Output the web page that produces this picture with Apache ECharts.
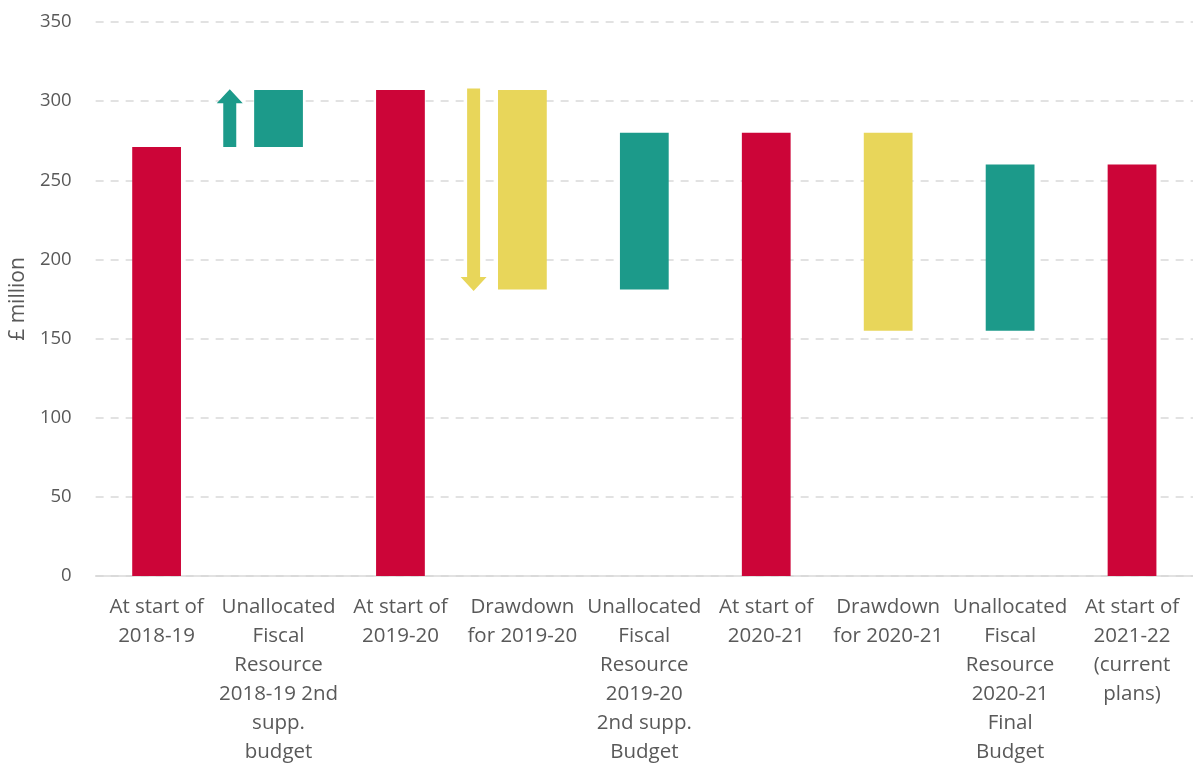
<!DOCTYPE html>
<html>
<head>
<meta charset="utf-8">
<script src="https://cdn.jsdelivr.net/npm/echarts@6/dist/echarts.min.js"></script>
<style>
  html, body { margin: 0; padding: 0; background: #fff; }
  #chart { width: 1193px; height: 767px; }
</style>
</head>
<body>
<div id="chart"></div>
<script>
// categories along the bottom
var categories = [
  "At start of\n2018-19",
  "Unallocated\nFiscal\nResource\n2018-19 2nd\nsupp.\nbudget",
  "At start of\n2019-20",
  "Drawdown\nfor 2019-20",
  "Unallocated\nFiscal\nResource\n2019-20\n2nd supp.\nBudget",
  "At start of\n2020-21",
  "Drawdown\nfor 2020-21",
  "Unallocated\nFiscal\nResource\n2020-21\nFinal\nBudget",
  "At start of\n2021-22\n(current\nplans)"
];
// bottom and top of each floating bar (£ million)
var barLow  = [0, 271, 0, 181, 181, 0, 155, 155, 0];
var barHigh = [271, 307, 307, 307, 280, 280, 280, 260, 260];
// kind of bar: 0 = total, 1 = unallocated, 2 = drawdown
var barKind = [0, 1, 0, 2, 1, 0, 2, 1, 0];
// arrows: [category, from, to]
var arrows = [
  [1, 271, 307.5],
  [3, 308, 180]
];
var arrowKind = [1, 2];

var colors = ["#CC0538", "#1C9A8A", "#E8D65A"];
var textColor = "#595959";

var chart = echarts.init(document.getElementById("chart"), null, { renderer: "canvas" });

var baseData = barLow.map(function (v) { return v; });
var barData = barHigh.map(function (h, i) {
  return {
    value: h - barLow[i],
    itemStyle: { color: colors[barKind[i]] }
  };
});

var option = {
  animation: false,
  textStyle: { fontFamily: "Open Sans" },
  grid: { left: 95, right: 0, top: 22, bottom: 190 },
  xAxis: {
    type: "category",
    data: categories,
    axisTick: { show: false },
    axisLine: { lineStyle: { color: "#d9d9d9", width: 1.5 } },
    axisLabel: {
      interval: 0,
      color: textColor,
      fontSize: 20.5,
      lineHeight: 29,
      margin: 17,
      align: "center"
    }
  },
  yAxis: {
    type: "value",
    min: 0,
    max: 350,
    interval: 50,
    name: "£ million",
    nameLocation: "middle",
    nameGap: 64,
    nameTextStyle: { color: textColor, fontSize: 21 },
    axisLine: { show: false },
    axisTick: { show: false },
    axisLabel: { color: textColor, fontSize: 18.5, margin: 24 },
    splitLine: { lineStyle: { color: "#d9d9d9", width: 1.5, type: [8, 7] } }
  },
  series: [
    {
      name: "base",
      type: "bar",
      stack: "w",
      barWidth: "40%",
      itemStyle: { color: "transparent" },
      silent: true,
      data: baseData
    },
    {
      name: "change",
      type: "bar",
      stack: "w",
      barWidth: "40%",
      data: barData
    },
    {
      name: "arrows",
      type: "custom",
      data: arrows,
      renderItem: function (params, api) {
        var cat = api.value(0);
        var from = api.coord([cat, api.value(1)]);
        var to = api.coord([cat, api.value(2)]);
        var band = api.size([1, 0])[0];
        var x = from[0] - band * 0.4;
        var dir = to[1] < from[1] ? -1 : 1;
        var shaft = 6.5, head = 13, headLen = 14;
        var yNeck = to[1] - dir * headLen;
        var pts = [
          [x - shaft, from[1]],
          [x - shaft, yNeck],
          [x - head, yNeck],
          [x, to[1]],
          [x + head, yNeck],
          [x + shaft, yNeck],
          [x + shaft, from[1]]
        ];
        return {
          type: "polygon",
          shape: { points: pts },
          style: { fill: colors[arrowKind[params.dataIndex]] }
        };
      }
    }
  ]
};

option && chart.setOption(option);
</script>
</body>
</html>
